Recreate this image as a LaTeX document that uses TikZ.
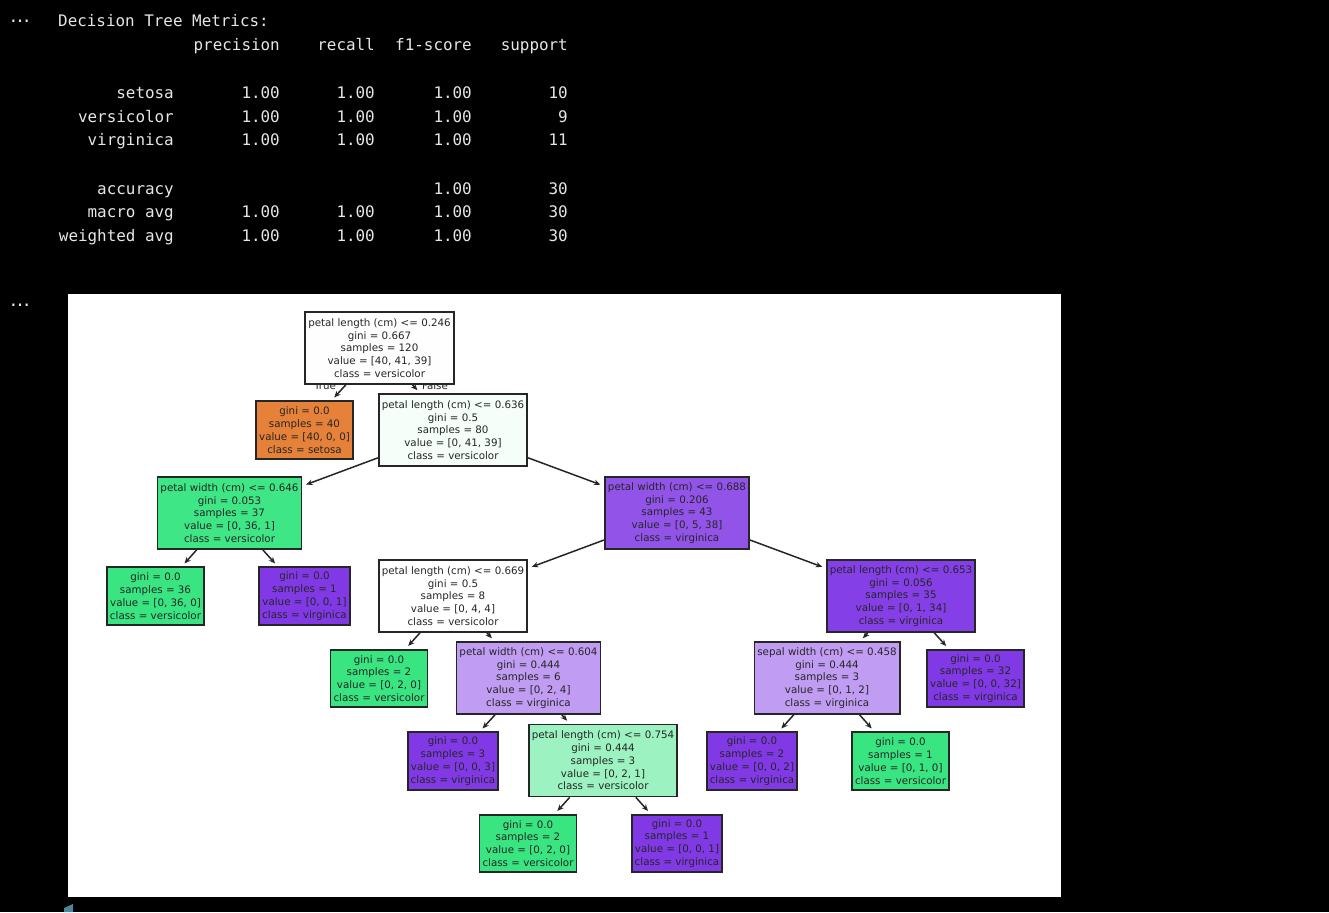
\documentclass[tikz,border=0pt]{standalone}
\usepackage{fontspec}
\setmainfont{DejaVu Sans}
\setmonofont{DejaVu Sans Mono}
\usetikzlibrary{arrows.meta}
\definecolor{setosa}{HTML}{E58139}
\definecolor{versi}{HTML}{39E581}
\definecolor{virg}{HTML}{8139E5}
\definecolor{rootc}{HTML}{FDFEFD}
\definecolor{ntwo}{HTML}{F5FEF9}
\definecolor{nthree}{HTML}{3FE685}
\definecolor{nfour}{HTML}{9253E8}
\definecolor{neight}{HTML}{853FE6}
\definecolor{lightvirg}{HTML}{C09CF2}
\definecolor{lightversi}{HTML}{9CF2C0}
\definecolor{termtext}{HTML}{E6E6E6}
\definecolor{cursorc}{HTML}{4F8596}
\begin{document}
\begin{tikzpicture}[x=1pt,y=-1pt,
  term/.style={text=termtext,font=\fontsize{15.9}{18}\selectfont\ttfamily,inner sep=0pt,anchor=base east},
  dots/.style={text=termtext,font=\fontsize{20}{20}\selectfont,inner sep=0pt},
  tnode/.style={draw=black!85,line width=1.6pt,align=center,inner xsep=3pt,inner ysep=1pt,
    font=\fontsize{10.3}{12.8}\selectfont,text=black!85},
  split/.style={tnode,minimum height=72pt},
  leafnode/.style={tnode,minimum height=57.5pt},
  edge/.style={draw=black!85,line width=1.5pt,-{Stealth[length=6.5pt,width=5.5pt]},shorten >=4pt,shorten <=0pt},
  tf/.style={font=\fontsize{10.3}{12.8}\selectfont,text=black!85,anchor=base,inner sep=0pt}]
\useasboundingbox (0,0) rectangle (1329,912);
\fill[black] (0,0) rectangle (1329,912);

% notebook output markers
\node[dots] (dotsA) at (20,24) {⋯};
\node[dots] (dotsB) at (20,308) {⋯};

% classification report
\node[term,anchor=base west] (title) at (58,27) {Decision Tree Metrics:};
\node[term] (hp) at (280,51) {precision};
\node[term] (hr) at (375,51) {recall};
\node[term] (hf) at (472,51) {f1-score};
\node[term] (hs) at (568,51) {support};
\foreach \lab/\yy/\sup [count=\i] in {setosa/99/10, versicolor/123/9, virginica/146/11}{
  \node[term] (rl\i) at (174,\yy) {\lab};
  \node[term] (rp\i) at (280,\yy) {1.00};
  \node[term] (rr\i) at (375,\yy) {1.00};
  \node[term] (rf\i) at (472,\yy) {1.00};
  \node[term] (rs\i) at (568,\yy) {\sup};
}
\node[term] (acc) at (174,194) {accuracy};
\node[term] (accf) at (472,194) {1.00};
\node[term] (accs) at (568,194) {30};
\foreach \lab/\yy [count=\i] in {macro avg/217, weighted avg/241}{
  \node[term] (al\i) at (174,\yy) {\lab};
  \node[term] (ap\i) at (280,\yy) {1.00};
  \node[term] (ar\i) at (375,\yy) {1.00};
  \node[term] (af\i) at (472,\yy) {1.00};
  \node[term] (as\i) at (568,\yy) {30};
}

% plot canvas
\fill[white] (68,294) rectangle (1061,897);
\fill[cursorc] (64,912) -- (64,908) -- (73,904) -- (73,912) -- cycle;

% branch labels (partly hidden under the root box)
\node[tf] (lblT) at (325,389) {True};
\node[tf] (lblF) at (435,389) {False};

% tree nodes
\node[split,fill=rootc] (n0) at (379.5,348) {petal length (cm) <= 0.246\\gini = 0.667\\samples = 120\\value = [40, 41, 39]\\class = versicolor};
\node[leafnode,fill=setosa] (n1) at (304.5,430) {gini = 0.0\\samples = 40\\value = [40, 0, 0]\\class = setosa};
\node[split,fill=ntwo] (n2) at (453,430) {petal length (cm) <= 0.636\\gini = 0.5\\samples = 80\\value = [0, 41, 39]\\class = versicolor};
\node[split,fill=nthree] (n3) at (229.5,513) {petal width (cm) <= 0.646\\gini = 0.053\\samples = 37\\value = [0, 36, 1]\\class = versicolor};
\node[split,fill=nfour] (n4) at (677,513) {petal width (cm) <= 0.688\\gini = 0.206\\samples = 43\\value = [0, 5, 38]\\class = virginica};
\node[leafnode,fill=versi] (n5) at (155.5,596) {gini = 0.0\\samples = 36\\value = [0, 36, 0]\\class = versicolor};
\node[leafnode,fill=virg] (n6) at (304.5,596) {gini = 0.0\\samples = 1\\value = [0, 0, 1]\\class = virginica};
\node[split,fill=white] (n7) at (453,596) {petal length (cm) <= 0.669\\gini = 0.5\\samples = 8\\value = [0, 4, 4]\\class = versicolor};
\node[split,fill=neight] (n8) at (901,596) {petal length (cm) <= 0.653\\gini = 0.056\\samples = 35\\value = [0, 1, 34]\\class = virginica};
\node[leafnode,fill=versi] (n9) at (379,678.5) {gini = 0.0\\samples = 2\\value = [0, 2, 0]\\class = versicolor};
\node[split,fill=lightvirg] (n10) at (528.5,678) {petal width (cm) <= 0.604\\gini = 0.444\\samples = 6\\value = [0, 2, 4]\\class = virginica};
\node[split,fill=lightvirg] (n11) at (827,678) {sepal width (cm) <= 0.458\\gini = 0.444\\samples = 3\\value = [0, 1, 2]\\class = virginica};
\node[leafnode,fill=virg] (n12) at (975.5,678.5) {gini = 0.0\\samples = 32\\value = [0, 0, 32]\\class = virginica};
\node[leafnode,fill=virg] (n13) at (453,761) {gini = 0.0\\samples = 3\\value = [0, 0, 3]\\class = virginica};
\node[split,fill=lightversi] (n14) at (603,760.5) {petal length (cm) <= 0.754\\gini = 0.444\\samples = 3\\value = [0, 2, 1]\\class = versicolor};
\node[leafnode,fill=virg] (n15) at (752,761) {gini = 0.0\\samples = 2\\value = [0, 0, 2]\\class = virginica};
\node[leafnode,fill=versi] (n16) at (900.5,761) {gini = 0.0\\samples = 1\\value = [0, 1, 0]\\class = versicolor};
\node[leafnode,fill=versi] (n17) at (528,843.5) {gini = 0.0\\samples = 2\\value = [0, 2, 0]\\class = versicolor};
\node[leafnode,fill=virg] (n18) at (677,843.5) {gini = 0.0\\samples = 1\\value = [0, 0, 1]\\class = virginica};

% connectors
\foreach \p/\c in {n0/n1, n0/n2, n2/n3, n2/n4, n3/n5, n3/n6, n4/n7, n4/n8,
                   n7/n9, n7/n10, n8/n11, n8/n12, n10/n13, n10/n14, n11/n15, n11/n16,
                   n14/n17, n14/n18}
  \draw[edge] (\p) -- (\c);
\end{tikzpicture}
\end{document}
